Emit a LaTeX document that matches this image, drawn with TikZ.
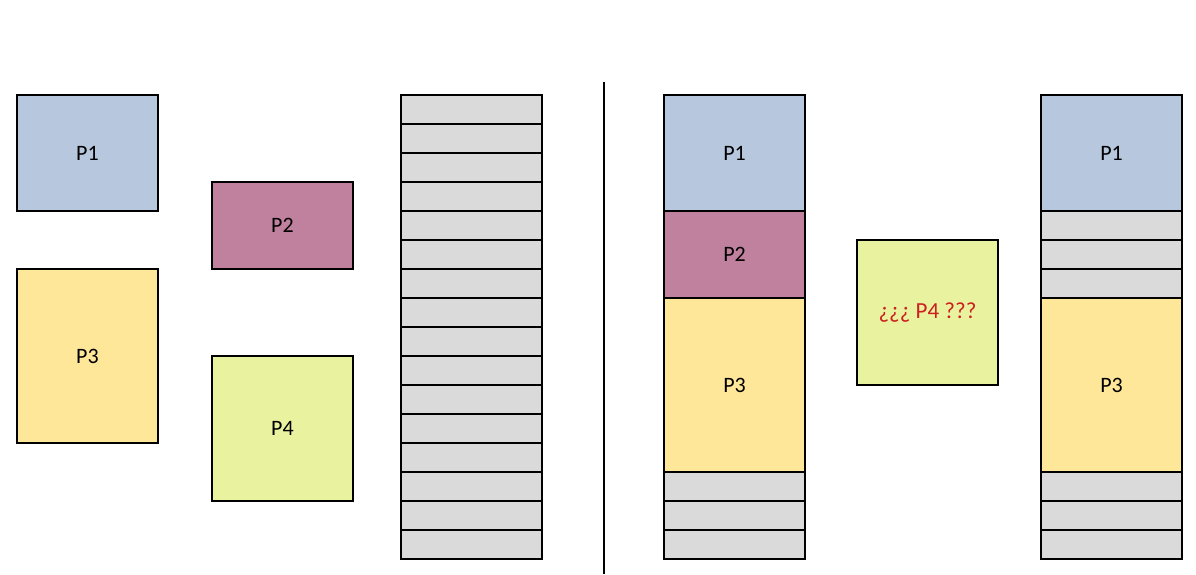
\documentclass[tikz,border=0pt]{standalone}
\usepackage{fontspec}
\setmainfont{Carlito}
\definecolor{pblue}{HTML}{B7C7DD}
\definecolor{pmauve}{HTML}{C0819E}
\definecolor{pyellow}{HTML}{FFE799}
\definecolor{pgreen}{HTML}{E9F29F}
\definecolor{cellgray}{HTML}{DADADA}
\definecolor{qred}{HTML}{CC1F1F}
\begin{document}
\begin{tikzpicture}[x=1pt,y=-1pt,
  blk/.style={draw=black,line width=1.1pt,inner sep=0pt,outer sep=0pt,anchor=north west,minimum width=141pt,font=\fontsize{22}{25}\selectfont},
  cell/.style={blk,fill=cellgray,minimum height=29pt}]
\useasboundingbox (0,0) rectangle (1196,574);
% left side: processes
\node[blk,fill=pblue,minimum height=116pt] (p1) at (17,95) {P1};
\node[blk,fill=pmauve,minimum height=87pt] (p2) at (212,182) {P2};
\node[blk,fill=pyellow,minimum height=174pt] (p3) at (17,269) {P3};
\node[blk,fill=pgreen,minimum height=145pt] (p4) at (212,356) {P4};
% empty memory
\foreach \i in {0,...,15}{
  \node[cell] (m\i) at (401,95+29*\i) {};
}
% divider
\coordinate (dtop) at (604,82);
\coordinate (dbot) at (604,574);
\draw[line width=1.1pt] (dtop) -- (dbot);
% memory after allocation
\node[blk,fill=pblue,minimum height=116pt] (a1) at (664,95) {P1};
\node[blk,fill=pmauve,minimum height=87pt] (a2) at (664,211) {P2};
\node[blk,fill=pyellow,minimum height=174pt] (a3) at (664,298) {P3};
\foreach \i in {0,1,2}{
  \node[cell] (af\i) at (664,472+29*\i) {};
}
% P4 not fitting
\node[blk,fill=pgreen,minimum height=145pt,text=qred,font=\fontsize{23}{26}\selectfont] (q4) at (857,240) {¿¿¿ P4 ???};
% memory after freeing P2
\node[blk,fill=pblue,minimum height=116pt] (b1) at (1041,95) {P1};
\foreach \i in {0,1,2}{
  \node[cell] (bh\i) at (1041,211+29*\i) {};
}
\node[blk,fill=pyellow,minimum height=174pt] (b3) at (1041,298) {P3};
\foreach \i in {0,1,2}{
  \node[cell] (bf\i) at (1041,472+29*\i) {};
}
\end{tikzpicture}
\end{document}
